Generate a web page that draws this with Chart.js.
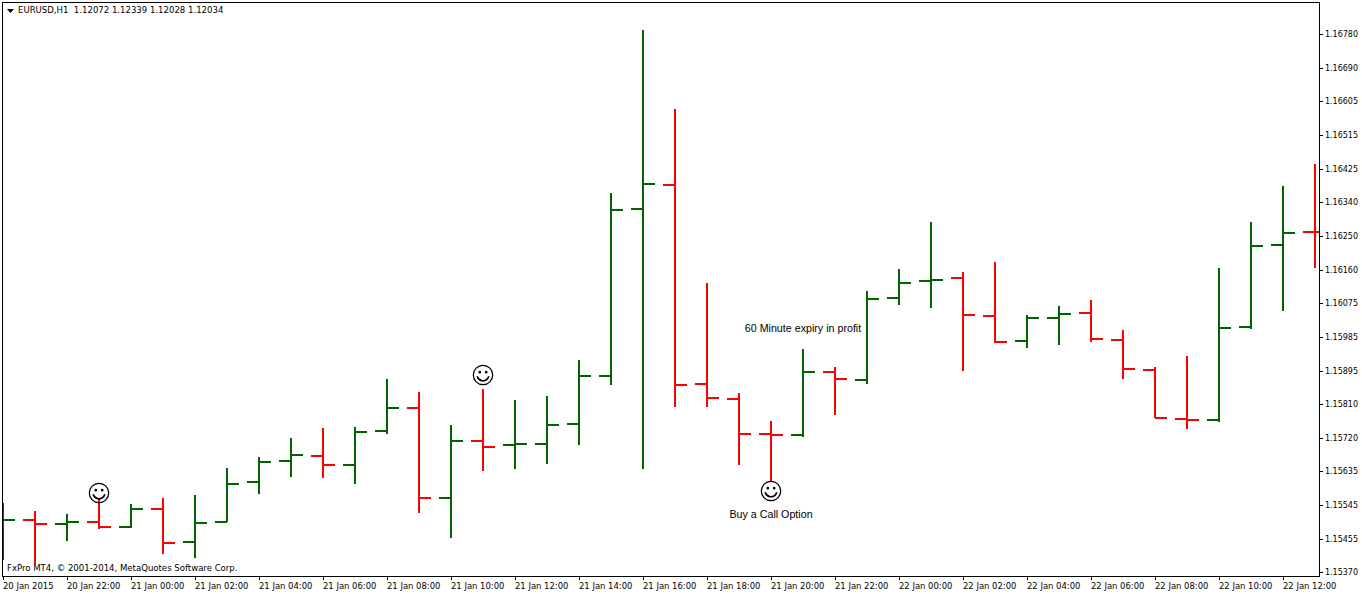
<!DOCTYPE html>
<html><head><meta charset="utf-8">
<style>html,body{margin:0;padding:0;background:#fff}canvas{display:block}</style>
<script src="https://cdn.jsdelivr.net/npm/chart.js@4/dist/chart.umd.js"></script>
</head><body><canvas id="c" width="1362" height="594"></canvas>
<script>
const hourLabels = ['20 Jan 2015','20 Jan 22:00','21 Jan 00:00','21 Jan 02:00','21 Jan 04:00','21 Jan 06:00','21 Jan 08:00','21 Jan 10:00','21 Jan 12:00','21 Jan 14:00','21 Jan 16:00','21 Jan 18:00','21 Jan 20:00','21 Jan 22:00','22 Jan 00:00','22 Jan 02:00','22 Jan 04:00','22 Jan 06:00','22 Jan 08:00','22 Jan 10:00','22 Jan 12:00'];
const priceTicks = [1.16780,1.16690,1.16605,1.16515,1.16425,1.16340,1.16250,1.16160,1.16075,1.15985,1.15895,1.15810,1.15720,1.15635,1.15545,1.15455,1.15370];
const opens = [1.15503,1.15505,1.15495,1.15500,1.15487,1.15534,1.15448,1.15500,1.15605,1.15660,1.15673,1.15650,1.15739,1.15799,1.15563,1.15713,1.15702,1.15705,1.15757,1.15883,1.16321,1.16384,1.15862,1.15823,1.15731,1.15728,1.15894,1.15873,1.16088,1.16132,1.16140,1.16040,1.15975,1.16035,1.16048,1.15977,1.15899,1.15770,1.15768,1.16012,1.16227,1.16261];
const highs = [1.15550,1.15529,1.15521,1.15563,1.15547,1.15563,1.15571,1.15642,1.15671,1.15720,1.15747,1.15749,1.15875,1.15841,1.15755,1.15849,1.15820,1.15831,1.15925,1.16363,1.16791,1.16583,1.16127,1.15838,1.15765,1.15954,1.15907,1.16106,1.16164,1.16287,1.16156,1.16182,1.16043,1.16067,1.16082,1.16004,1.15907,1.15936,1.16166,1.16287,1.16381,1.16439];
const lows = [1.15400,1.15390,1.15450,1.15482,1.15484,1.15416,1.15406,1.15500,1.15574,1.15618,1.15616,1.15600,1.15731,1.15524,1.15458,1.15634,1.15639,1.15652,1.15702,1.15859,1.15639,1.15802,1.15802,1.15650,1.15608,1.15723,1.15781,1.15862,1.16069,1.16061,1.15896,1.15970,1.15957,1.15964,1.15972,1.15875,1.15773,1.15744,1.15762,1.16006,1.16054,1.16166];
const closes = [1.15505,1.15495,1.15500,1.15487,1.15534,1.15445,1.15498,1.15600,1.15658,1.15676,1.15650,1.15736,1.15799,1.15563,1.15713,1.15697,1.15705,1.15755,1.15883,1.16318,1.16387,1.15859,1.15825,1.15731,1.15728,1.15894,1.15875,1.16085,1.16127,1.16135,1.16043,1.15972,1.16035,1.16046,1.15980,1.15901,1.15773,1.15768,1.16009,1.16224,1.16258,1.16261];
const smileyBars = [3,15,24];
const smileyPrices = [1.15576,1.15886,1.15581];
const noteBars = [25,24];
const notePrices = [1.16009,1.15521];
const noteTexts = ['60 Minute expiry in profit','Buy a Call Option'];
const headerText = 'EURUSD,H1  1.12072 1.12339 1.12028 1.12034';
const copyrightText = 'FxPro MT4, \u00A9 2001-2014, MetaQuotes Software Corp.';

const UP = '#006400', DOWN = '#ff0000';
const AXIS_FONT = '"DejaVu Sans Condensed","DejaVu Sans"';
const NOTE_FONT = '"Liberation Sans"';

class SnapLinear extends Chart.LinearScale {
  getPixelForValue(v) { return Math.round(super.getPixelForValue(v)); }
  _computeLabelItems(area) {
    const items = super._computeLabelItems(area);
    if (!this.isHorizontal()) items.forEach(it => { it.options.translation = [it.options.translation[0], it.options.translation[1] + 1]; });
    return items;
  }
}
SnapLinear.id = 'snapLinear';
SnapLinear.defaults = Chart.LinearScale.defaults;
Chart.register(SnapLinear);

const isUp = i => closes[i] > opens[i];
const TICK = 0.375;
function tickSegments(up) {
  const pts = [];
  opens.forEach((o, i) => {
    if (isUp(i) !== up) return;
    pts.push({x:i-TICK,y:o},{x:i,y:o},{x:i,y:null},{x:i,y:closes[i]},{x:i+TICK,y:closes[i]},{x:i+TICK,y:null});
  });
  return pts;
}
function smiley() {
  const s = document.createElement('canvas'); s.width = 22; s.height = 22;
  const g = s.getContext('2d');
  g.strokeStyle = '#000'; g.fillStyle = '#000'; g.lineWidth = 1.25;
  g.beginPath(); g.arc(11,11,9.7,0,Math.PI*2); g.stroke();
  g.beginPath(); g.arc(7.8,8.2,1.35,0,Math.PI*2); g.arc(14.2,8.2,1.35,0,Math.PI*2); g.fill();
  g.lineWidth = 1.6;
  g.beginPath(); g.arc(11,10.8,6,0.25,Math.PI-0.25); g.stroke();
  return s;
}
function zeroPadding(s) { s.paddingLeft = s.paddingRight = s.paddingTop = s.paddingBottom = 0; }
const frameAndText = {
  id:'frameAndText',
  beforeDraw(chart) {
    const {ctx} = chart;
    ctx.save(); ctx.fillStyle = '#fff'; ctx.fillRect(0,0,chart.width,chart.height); ctx.restore();
  },
  afterDraw(chart) {
    const {ctx, chartArea:a, scales:{x,y}} = chart;
    ctx.save();
    ctx.strokeStyle = '#000'; ctx.lineWidth = 1;
    ctx.strokeRect(a.left+0.5, a.top+0.5, a.right-a.left, a.bottom-a.top);
    ctx.fillStyle = '#000';
    ctx.beginPath(); ctx.moveTo(7,9); ctx.lineTo(14,9); ctx.lineTo(10.5,13); ctx.closePath(); ctx.fill();
    ctx.textBaseline = 'middle'; ctx.textAlign = 'left';
    ctx.font = '9.5px '+AXIS_FONT;
    ctx.fillText(headerText, 18, 11);
    ctx.fillText(copyrightText, 7, 569);
    ctx.textAlign = 'center';
    ctx.font = '10.7px '+NOTE_FONT;
    noteTexts.forEach((t,i) => ctx.fillText(t, x.getPixelForValue(noteBars[i]), y.getPixelForValue(notePrices[i]) + 1));
    ctx.restore();
  }
};
const canvas = document.getElementById('c');
canvas.getContext('2d', {alpha:false});
new Chart(canvas, {
  type:'bar',
  data:{ datasets:[
    { type:'bar', label:'High-Low', data:highs.map((h,i)=>({x:i,y:[lows[i],h]})),
      backgroundColor:highs.map((h,i)=>isUp(i)?UP:DOWN), barThickness:2, grouped:false, borderWidth:0, inflateAmount:0, order:2 },
    { type:'line', label:'Open/Close up', data:tickSegments(true), borderColor:UP, borderWidth:2, pointRadius:0, spanGaps:false, tension:0, borderCapStyle:'butt', clip:0, order:1 },
    { type:'line', label:'Open/Close down', data:tickSegments(false), borderColor:DOWN, borderWidth:2, pointRadius:0, spanGaps:false, tension:0, borderCapStyle:'butt', clip:0, order:1 },
    { type:'line', label:'Signals', data:smileyBars.map((b,i)=>({x:b,y:smileyPrices[i]})), showLine:false, pointStyle:smiley(), pointRadius:11, order:0 }
  ]},
  options:{
    responsive:false, animation:false, events:[],
    layout:{autoPadding:false, padding:{left:2,top:2,right:0,bottom:0}},
    plugins:{legend:{display:false},tooltip:{enabled:false},title:{display:false}},
    scales:{
      x:{ type:'snapLinear', position:'bottom', min:-1/32, max:1316/32, offset:false,
        grid:{drawOnChartArea:false,drawTicks:true,tickLength:4,color:'#000',offset:false},
        border:{display:false},
        afterBuildTicks(s){ s.ticks = hourLabels.map((_,i)=>({value:i*2})); },
        afterFit(s){ s.height = 18; zeroPadding(s); },
        ticks:{ autoSkip:false, maxRotation:0, minRotation:0, align:'start', padding:1, color:'#000',
          font:{family:AXIS_FONT,size:9.4}, callback:v=>hourLabels[v/2] } },
      y:{ type:'snapLinear', position:'right', min:1.153585, max:1.16864, beginAtZero:false,
        grid:{drawOnChartArea:false,drawTicks:true,tickLength:4,color:'#000'},
        border:{display:false},
        afterBuildTicks(s){ s.ticks = priceTicks.map(v=>({value:v})); },
        afterFit(s){ s.width = 43; zeroPadding(s); },
        ticks:{ autoSkip:false, padding:2, color:'#000', font:{family:AXIS_FONT,size:8.9}, callback:v=>v.toFixed(5) } }
    }
  },
  plugins:[frameAndText]
});
</script></body></html>
